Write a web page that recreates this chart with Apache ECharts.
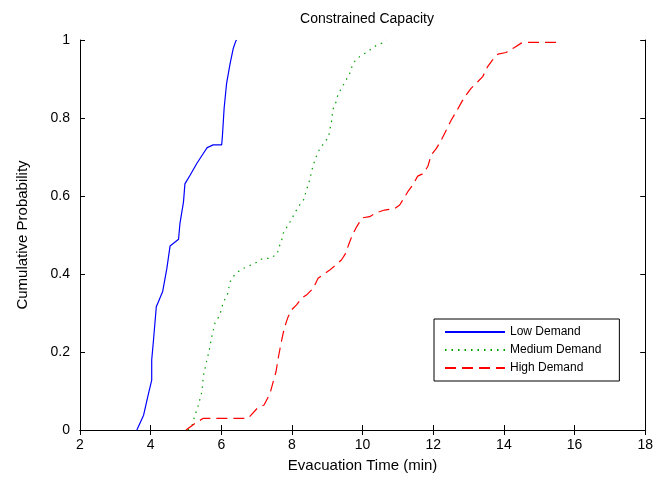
<!DOCTYPE html>
<html>
<head>
<meta charset="utf-8">
<script src="https://cdn.jsdelivr.net/npm/echarts@6/dist/echarts.min.js"></script>
<style>
  html, body { margin: 0; padding: 0; background: #fff; }
  #chart { width: 656px; height: 480px; }
</style>
</head>
<body>
<div id="chart"></div>
<script>
  // evacuation time (min) / cumulative probability
  var lowTime = [3.61, 3.80, 3.94, 4.03, 4.03, 4.08, 4.16, 4.22, 4.34, 4.46, 4.55, 4.79, 4.83, 4.93, 4.97, 5.12, 5.31, 5.49, 5.60, 5.77, 6.01, 6.03, 6.08, 6.15, 6.25, 6.34, 6.41, 6.43];
  var lowProb = [0, 0.038, 0.094, 0.128, 0.18, 0.23, 0.316, 0.329, 0.355, 0.415, 0.472, 0.489, 0.53, 0.585, 0.631, 0.654, 0.684, 0.709, 0.724, 0.731, 0.731, 0.752, 0.825, 0.889, 0.94, 0.979, 0.997, 1];

  var medTime = [5.05, 5.16, 5.23, 5.35, 5.45, 5.49, 5.57, 5.66, 5.73, 5.82, 5.96, 6.06, 6.17, 6.25, 6.37, 6.53, 6.73, 6.95, 7.17, 7.38, 7.58, 7.64, 7.71, 7.75, 7.86, 7.99, 8.08, 8.22, 8.36, 8.39, 8.46, 8.51, 8.60, 8.69, 8.77, 8.90, 9.04, 9.07, 9.12, 9.16, 9.24, 9.30, 9.40, 9.52, 9.64, 9.70, 9.80, 9.94, 10.17, 10.37, 10.58, 10.67];
  var medProb = [0, 0.008, 0.03, 0.064, 0.098, 0.137, 0.171, 0.205, 0.239, 0.274, 0.295, 0.329, 0.346, 0.38, 0.397, 0.41, 0.419, 0.427, 0.44, 0.44, 0.451, 0.47, 0.487, 0.504, 0.521, 0.54, 0.557, 0.577, 0.594, 0.611, 0.628, 0.645, 0.679, 0.701, 0.718, 0.735, 0.752, 0.769, 0.791, 0.822, 0.839, 0.859, 0.876, 0.895, 0.915, 0.932, 0.949, 0.959, 0.972, 0.985, 0.993, 1];

  var highTime = [5.0, 5.26, 5.49, 6.76, 7.02, 7.21, 7.38, 7.47, 7.55, 7.61, 7.69, 7.75, 7.83, 7.89, 7.99, 8.13, 8.27, 8.41, 8.60, 8.74, 8.86, 9.07, 9.24, 9.40, 9.52, 9.62, 9.71, 9.83, 9.99, 10.20, 10.39, 10.62, 10.91, 11.05, 11.14, 11.28, 11.42, 11.56, 11.73, 11.85, 11.94, 12.09, 12.23, 12.37, 12.51, 12.65, 12.81, 12.93, 13.07, 13.26, 13.40, 13.54, 13.68, 13.83, 14.06, 14.30, 14.49, 14.72, 15.47, 15.62];
  var highProb = [0, 0.017, 0.03, 0.03, 0.056, 0.064, 0.094, 0.124, 0.15, 0.184, 0.222, 0.248, 0.274, 0.29, 0.308, 0.321, 0.338, 0.346, 0.363, 0.389, 0.397, 0.41, 0.423, 0.436, 0.453, 0.479, 0.5, 0.521, 0.544, 0.547, 0.557, 0.564, 0.568, 0.577, 0.59, 0.611, 0.628, 0.651, 0.658, 0.677, 0.705, 0.722, 0.744, 0.769, 0.795, 0.816, 0.842, 0.859, 0.876, 0.893, 0.906, 0.932, 0.949, 0.964, 0.968, 0.981, 0.992, 0.994, 0.994, 1];

  var seriesNames = ["Low Demand", "Medium Demand", "High Demand"];

  function zip(xs, ys) {
    var out = [];
    for (var i = 0; i < xs.length; i++) {
      out.push([xs[i], ys[i]]);
    }
    return out;
  }

  var font = "Liberation Sans, Arial, sans-serif";
  var chart = echarts.init(document.getElementById("chart"));

  var tickAxis = {
    axisLine: { show: true, lineStyle: { color: "#000", width: 1 } },
    axisTick: { show: true, inside: true, length: 5, lineStyle: { color: "#000" } },
    splitLine: { show: false }
  };

  chart.setOption({
    animation: false,
    backgroundColor: "#fff",
    title: {
      text: "Constrained Capacity",
      left: 362,
      top: 7,
      textAlign: "center",
      textStyle: { fontFamily: font, fontSize: 14, fontWeight: "normal", color: "#000" }
    },
    legend: {
      orient: "vertical",
      left: 434,
      top: 319,
      width: 180,
      itemWidth: 60,
      itemHeight: 10,
      itemGap: 6,
      padding: [7, 18, 7, 10],
      borderColor: "#000",
      borderWidth: 1,
      backgroundColor: "#fff",
      itemStyle: { opacity: 0 },
      textStyle: { fontFamily: font, fontSize: 12, color: "#000" },
      data: seriesNames
    },
    grid: { left: 80, right: 10, top: 40, bottom: 50, containLabel: false },
    xAxis: [
      Object.assign({
        type: "value",
        min: 2,
        max: 18,
        interval: 2,
        name: "Evacuation Time (min)",
        nameLocation: "middle",
        nameGap: 28,
        nameTextStyle: { fontFamily: font, fontSize: 15, color: "#000" },
        axisLabel: { fontFamily: font, fontSize: 14, color: "#000", margin: 8 }
      }, tickAxis),
      Object.assign({
        type: "value",
        position: "top",
        min: 2,
        max: 18,
        interval: 2,
        axisLabel: { show: false }
      }, tickAxis)
    ],
    yAxis: [
      Object.assign({
        type: "value",
        min: 0,
        max: 1,
        interval: 0.2,
        name: "Cumulative Probability",
        nameLocation: "middle",
        nameGap: 50,
        nameTextStyle: { fontFamily: font, fontSize: 15, color: "#000" },
        axisLabel: { fontFamily: font, fontSize: 14, color: "#000", margin: 10 }
      }, tickAxis),
      Object.assign({
        type: "value",
        position: "right",
        min: 0,
        max: 1,
        interval: 0.2,
        axisLabel: { show: false }
      }, tickAxis)
    ],
    series: [
      {
        name: seriesNames[0],
        type: "line",
        symbol: "none",
        data: zip(lowTime, lowProb),
        lineStyle: { color: "#0000ff", width: 1.2, type: "solid" },
        itemStyle: { color: "#0000ff" }
      },
      {
        name: seriesNames[1],
        type: "line",
        symbol: "none",
        data: zip(medTime, medProb),
        lineStyle: { color: "#00a000", width: 1.2, type: [1.5, 5] },
        itemStyle: { color: "#00a000" }
      },
      {
        name: seriesNames[2],
        type: "line",
        symbol: "none",
        data: zip(highTime, highProb),
        lineStyle: { color: "#ff0000", width: 1.2, type: [11, 6] },
        itemStyle: { color: "#ff0000" }
      }
    ]
  });
</script>
</body>
</html>
